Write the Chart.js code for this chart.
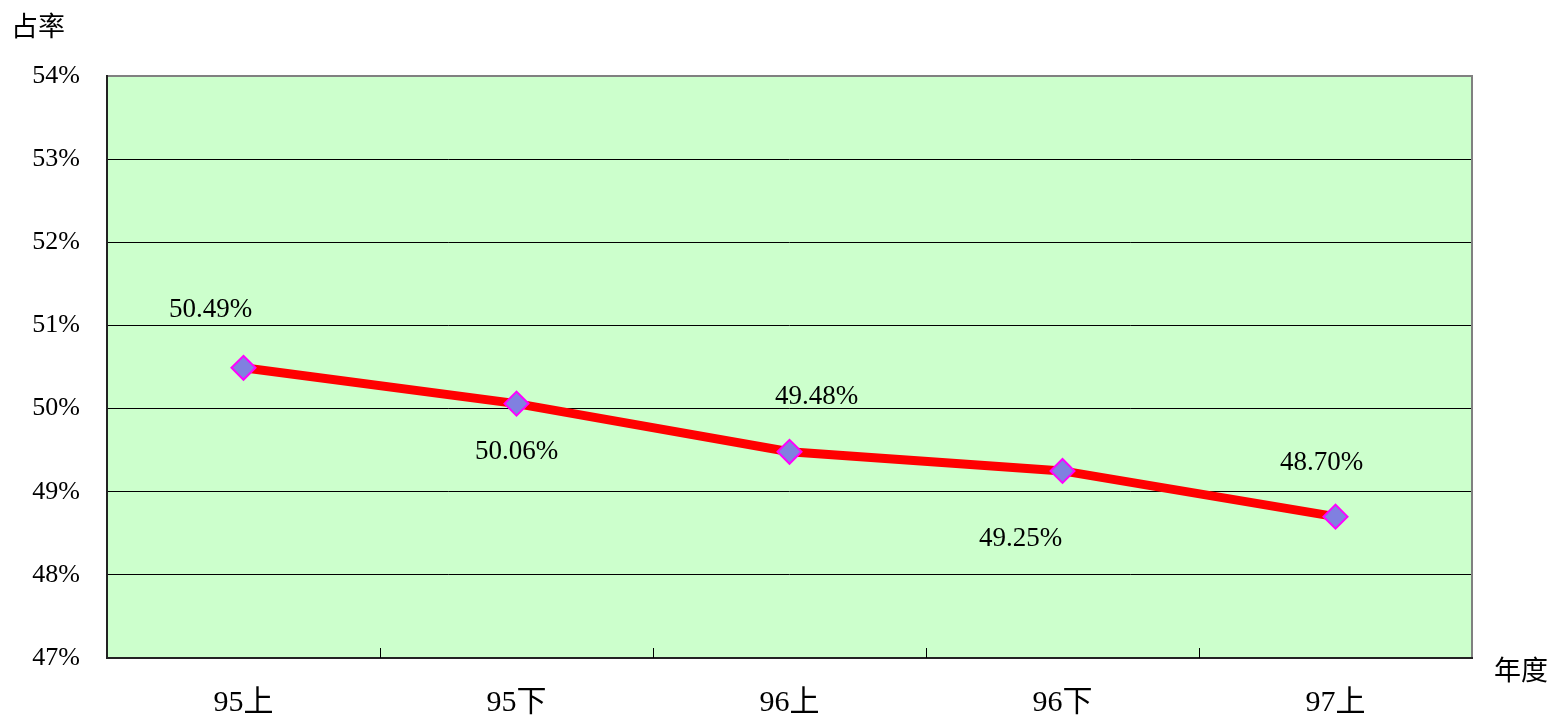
<!DOCTYPE html>
<html>
<head>
<meta charset="utf-8">
<script src="https://cdn.jsdelivr.net/npm/chart.js@4.4.1/dist/chart.umd.min.js"></script>
<style>
html,body{margin:0;padding:0;background:#fff;}
#wrap{width:1555px;height:715px;position:relative;}
</style>
</head>
<body>
<div id="wrap"><canvas id="c" width="1555" height="715"></canvas></div>
<script>
const categories = ['95上', '95下', '96上', '96下', '97上'];
const shareValues = [50.49, 50.06, 49.48, 49.25, 48.70];
const valueLabels = ['50.49%', '50.06%', '49.48%', '49.25%', '48.70%'];
const yTickMin = 47;
const yTickMax = 54;
const yAxisTitle = '占率';
const xAxisTitle = '年度';

// label placement offsets (style, relative to point)
const labelOffsets = [[-33, -58], [0, 48], [27, -55], [-42, 68], [-14, -54]];

const SERIF = '"Liberation Serif", "Noto Sans CJK TC", serif';
const CJK = '"Noto Sans CJK TC", sans-serif';

const decor = {
  id: 'decor',
  beforeDraw(chart) {
    const {ctx, chartArea: a} = chart;
    ctx.save();
    ctx.fillStyle = '#CCFFCC';
    ctx.fillRect(a.left, a.top, a.right - a.left, a.bottom - a.top);
    ctx.restore();
  },
  beforeDatasetsDraw(chart) {
    const {ctx, chartArea: a, scales} = chart;
    const xs = scales.x;
    ctx.save();
    ctx.strokeStyle = '#808080';
    ctx.lineWidth = 2;
    ctx.beginPath();
    ctx.moveTo(a.left, a.top);
    ctx.lineTo(a.right, a.top);
    ctx.lineTo(a.right, a.bottom);
    ctx.stroke();
    ctx.strokeStyle = '#222';
    ctx.lineWidth = 2;
    ctx.beginPath();
    ctx.moveTo(a.left, a.top - 1);
    ctx.lineTo(a.left, a.bottom);
    ctx.lineTo(a.right + 1, a.bottom);
    ctx.stroke();
    ctx.lineWidth = 1;
    ctx.strokeStyle = '#000';
    for (let i = 1; i < categories.length; i++) {
      const x = Math.round((xs.getPixelForValue(i - 1) + xs.getPixelForValue(i)) / 2) + 0.5;
      ctx.beginPath();
      ctx.moveTo(x, a.bottom);
      ctx.lineTo(x, a.bottom - 10);
      ctx.stroke();
    }
    ctx.restore();
  },
  afterDraw(chart) {
    const {ctx} = chart;
    ctx.save();
    ctx.fillStyle = '#000';
    ctx.textAlign = 'center';
    ctx.textBaseline = 'middle';
    ctx.font = '27px ' + SERIF;
    const meta = chart.getDatasetMeta(0);
    meta.data.forEach((pt, i) => {
      const off = labelOffsets[i];
      ctx.fillText(valueLabels[i], pt.x + off[0], pt.y + off[1]);
    });
    ctx.font = '27px ' + CJK;
    ctx.textAlign = 'left';
    ctx.fillText(yAxisTitle, 11, 26);
    ctx.fillText(xAxisTitle, 1494, 670);
    ctx.restore();
  }
};

new Chart(document.getElementById('c'), {
  type: 'line',
  data: {
    labels: categories,
    datasets: [{
      data: shareValues,
      borderColor: '#FF0000',
      borderWidth: 9,
      pointStyle: 'rectRot',
      pointRadius: 12,
      pointHoverRadius: 12,
      pointBackgroundColor: '#8080E0',
      pointBorderColor: '#FF00FF',
      pointBorderWidth: 2,
      tension: 0,
      fill: false
    }]
  },
  options: {
    responsive: false,
    animation: false,
    events: [],
    layout: {padding: {top: 76, right: 83, left: 0, bottom: 0}},
    plugins: {legend: {display: false}, tooltip: {enabled: false}},
    scales: {
      x: {
        offset: true,
        grid: {display: false, drawTicks: false},
        border: {display: false},
        ticks: {
          padding: 27,
          color: '#000',
          font: {family: SERIF, size: 30}
        },
        afterFit(s) { s.height = 57; }
      },
      y: {
        min: yTickMin,
        max: yTickMax,
        grid: {color: '#000', lineWidth: 1, drawTicks: false},
        border: {display: false},
        ticks: {
          stepSize: 1,
          padding: 27,
          color: '#000',
          font: {family: SERIF, size: 26},
          callback: v => v + '%'
        },
        afterFit(s) { s.width = 107; }
      }
    }
  },
  plugins: [decor]
});
</script>
</body>
</html>
